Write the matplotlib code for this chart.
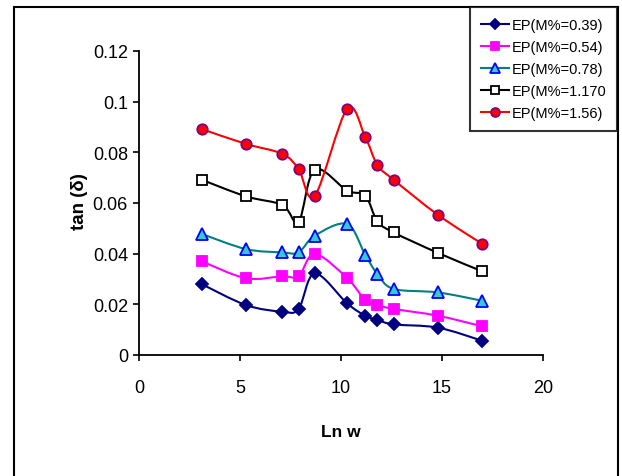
import matplotlib.pyplot as plt
from matplotlib.path import Path
from matplotlib.patches import PathPatch, Rectangle
from matplotlib.lines import Line2D

# data
ln_w = [3.1, 5.3, 7.1, 7.9, 8.7, 10.3, 11.2, 11.8, 12.6, 14.8, 17.0]
tan_039 = [0.0280, 0.0197, 0.0171, 0.0182, 0.0322, 0.0204, 0.0155, 0.0139, 0.0121, 0.0108, 0.0056]
tan_054 = [0.0370, 0.0303, 0.0311, 0.0311, 0.0399, 0.0304, 0.0217, 0.0197, 0.0182, 0.0155, 0.0113]
tan_078 = [0.0478, 0.0418, 0.0405, 0.0405, 0.0471, 0.0517, 0.0395, 0.0320, 0.0261, 0.0247, 0.0214]
tan_117 = [0.0692, 0.0626, 0.0592, 0.0526, 0.0732, 0.0649, 0.0629, 0.0528, 0.0484, 0.0403, 0.0330]
tan_156 = [0.0892, 0.0833, 0.0794, 0.0734, 0.0628, 0.0971, 0.0861, 0.0750, 0.0692, 0.0553, 0.0438]
labels = ["EP(M%=0.39)", "EP(M%=0.54)", "EP(M%=0.78)", "EP(M%=1.170", "EP(M%=1.56)"]
x_ticks = [0, 5, 10, 15, 20]
y_ticks = [0, 0.02, 0.04, 0.06, 0.08, 0.1, 0.12]
y_tick_labels = ["0", "0.02", "0.04", "0.06", "0.08", "0.1", "0.12"]


def smooth_path(xs, ys):
    """Excel-like smoothed line: cubic bezier through every point"""

    pts = list(zip(xs, ys))
    n = len(pts)
    verts = [pts[0]]
    codes = [Path.MOVETO]
    for i in range(n - 1):
        p0 = pts[max(i - 1, 0)]
        p1 = pts[i]
        p2 = pts[i + 1]
        p3 = pts[min(i + 2, n - 1)]
        c1 = (p1[0] + (p2[0] - p0[0]) / 6, p1[1] + (p2[1] - p0[1]) / 6)
        c2 = (p2[0] - (p3[0] - p1[0]) / 6, p2[1] - (p3[1] - p1[1]) / 6)
        verts += [c1, c2, p2]
        codes += [Path.CURVE4] * 3
    return Path(verts, codes)


def main():
    plt.rcParams['font.family'] = ['Liberation Sans', 'DejaVu Sans']

    fig = plt.figure(figsize=(6.22, 4.77), dpi=100)
    ax = fig.add_axes([139 / 622, 1 - 356 / 477, 404 / 622, 304 / 477])

    styles = [
        dict(color="#000080", marker="D", mfc="#000080", mec="#000080", ms=6.5),
        dict(color="#FF00FF", marker="s", mfc="#FF00FF", mec="#FF00FF", ms=7),
        dict(color="#008080", marker="^", mfc="#33CCCC", mec="#0000FF", ms=8),
        dict(color="#000000", marker="s", mfc="white", mec="#000000", ms=7.5),
        dict(color="#FF0000", marker="o", mfc="#FF0000", mec="#800080", ms=7.5),
    ]
    series = [tan_039, tan_054, tan_078, tan_117, tan_156]

    handles = []
    for ys, st, lab in zip(series, styles, labels):
        ax.add_patch(PathPatch(smooth_path(ln_w, ys), fill=False,
                               edgecolor=st["color"], lw=1.5, zorder=2))
        ax.plot(ln_w, ys, linestyle="none", marker=st["marker"],
                mfc=st["mfc"], mec=st["mec"], mew=1.3, ms=st["ms"], zorder=3)
        handles.append(Line2D([], [], color=st["color"], lw=1.5,
                              marker=st["marker"], mfc=st["mfc"],
                              mec=st["mec"], mew=1.3, ms=st["ms"] * 0.85,
                              label=lab))

    ax.set_xlim(0, 20)
    ax.set_ylim(0, 0.12)
    ax.set_xticks(x_ticks)
    ax.set_yticks(y_ticks)
    ax.set_yticklabels(y_tick_labels)
    for side in ("top", "right"):
        ax.spines[side].set_visible(False)
    for side in ("left", "bottom"):
        ax.spines[side].set_linewidth(1.3)
    ax.tick_params(axis="both", direction="out", length=4, width=1.2, labelsize=13)
    ax.tick_params(axis="x", pad=13)
    ax.tick_params(axis="y", pad=4)

    fig.text(80 / 622, 1 - 202 / 477, "tan (\u03b4)", rotation=90,
             ha="center", va="center", fontsize=13.5, fontweight="bold")
    fig.text(341 / 622, 1 - 433 / 477, "Ln w",
             ha="center", va="center", fontsize=12.5, fontweight="bold")

    leg = fig.legend(handles=handles, loc="upper right",
                     bbox_to_anchor=(617 / 622, 1 - 8 / 477),
                     bbox_transform=fig.transFigure, fontsize=10.5,
                     frameon=True, fancybox=False, edgecolor="black",
                     borderaxespad=0, borderpad=0.75, labelspacing=0.55,
                     handlelength=1.9, handletextpad=0.15)
    leg.get_frame().set_linewidth(1.5)

    # outer chart-area border
    fig.patches.append(Rectangle((14 / 622, -0.05), 604 / 622, 1.05 - 8 / 477,
                                 transform=fig.transFigure, fill=False,
                                 edgecolor="black", lw=1.5))

    fig.savefig("out.png", dpi=100)


if __name__ == "__main__":
    main()
